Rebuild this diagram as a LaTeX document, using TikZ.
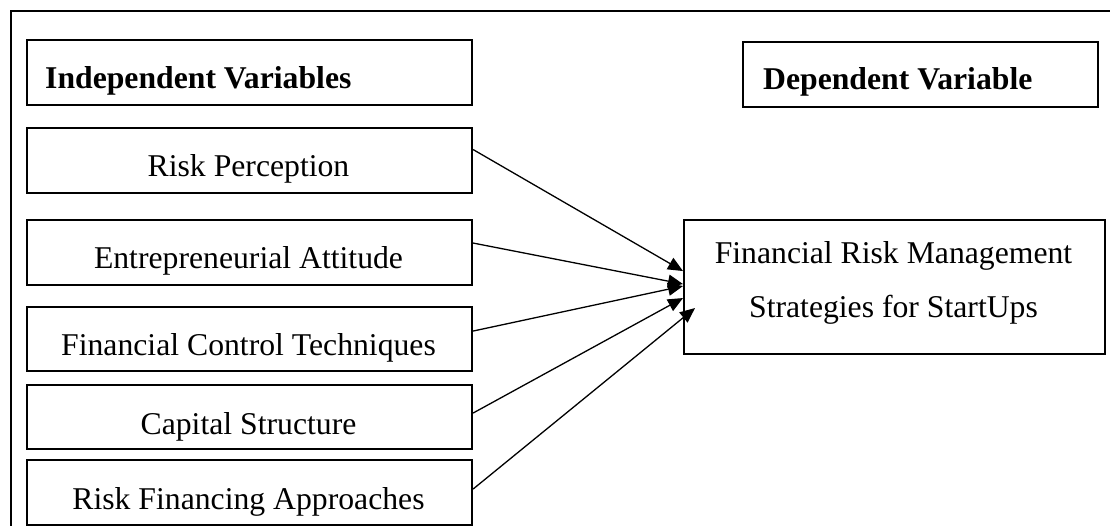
\documentclass[tikz,border=0pt]{standalone}
\usepackage{fontspec}
\setmainfont{Liberation Serif}
\usetikzlibrary{arrows.meta}
\begin{document}
\begin{tikzpicture}[x=1pt,y=-1pt,
  box/.style={draw, line width=2.1pt, inner sep=0pt, anchor=north west},
  txt/.style={anchor=base, inner sep=0pt, font=\fontsize{31.7}{38}\selectfont},
  head/.style={anchor=base west, inner sep=0pt, font=\fontsize{31.7}{38}\selectfont\bfseries},
  link/.style={line width=1.3pt, -{Triangle[length=15pt,width=13pt]}}]
\useasboundingbox (0,0) rectangle (1110,526);

% outer frame (runs past the page on the right and at the bottom)
\draw[line width=2.8pt] (11,540) -- (11,11) -- (1125,11);

% headings
\node[box, minimum width=445pt, minimum height=65pt] (ivbox) at (26,39) {};
\node[head] (ivtxt) at (45,89) {Independent Variables};
\node[box, minimum width=355pt, minimum height=65pt] (dvbox) at (742,41) {};
\node[head] (dvtxt) at (763,90) {Dependent Variable};

% independent variables
\node[box, minimum width=445pt, minimum height=65pt] (rp) at (26,127) {};
\node[txt] (rpt) at (248.5,177) {Risk Perception};
\node[box, minimum width=445pt, minimum height=65pt] (ea) at (26,219) {};
\node[txt] (eat) at (248.5,269) {Entrepreneurial Attitude};
\node[box, minimum width=445pt, minimum height=64pt] (fc) at (26,306) {};
\node[txt] (fct) at (248.5,355) {Financial Control Techniques};
\node[box, minimum width=445pt, minimum height=64pt] (cs) at (26,384) {};
\node[txt] (cst) at (248.5,434) {Capital Structure};
\node[box, minimum width=445pt, minimum height=65pt] (rf) at (26,459) {};
\node[txt] (rft) at (248.5,509) {Risk Financing Approaches};

% dependent variable
\node[box, minimum width=421pt, minimum height=134pt] (fr) at (683,219) {};
\node[txt] (frt1) at (893.5,264) {Financial Risk Management};
\node[txt] (frt2) at (893.5,318) {Strategies for StartUps};

% connectors
\draw[link] ([yshift=11pt]rp.east) -- ([yshift=16pt]fr.west);
\draw[link] ([yshift=9.5pt]ea.east) -- ([yshift=3pt]fr.west);
\draw[link] ([yshift=8pt]fc.east) -- ([yshift=1pt]fr.west);
\draw[link] ([yshift=4pt]cs.east) -- ([yshift=-11pt]fr.west);
\draw[link] ([yshift=3.5pt]rf.east) -- ([xshift=12pt,yshift=-21pt]fr.west);
\end{tikzpicture}
\end{document}
